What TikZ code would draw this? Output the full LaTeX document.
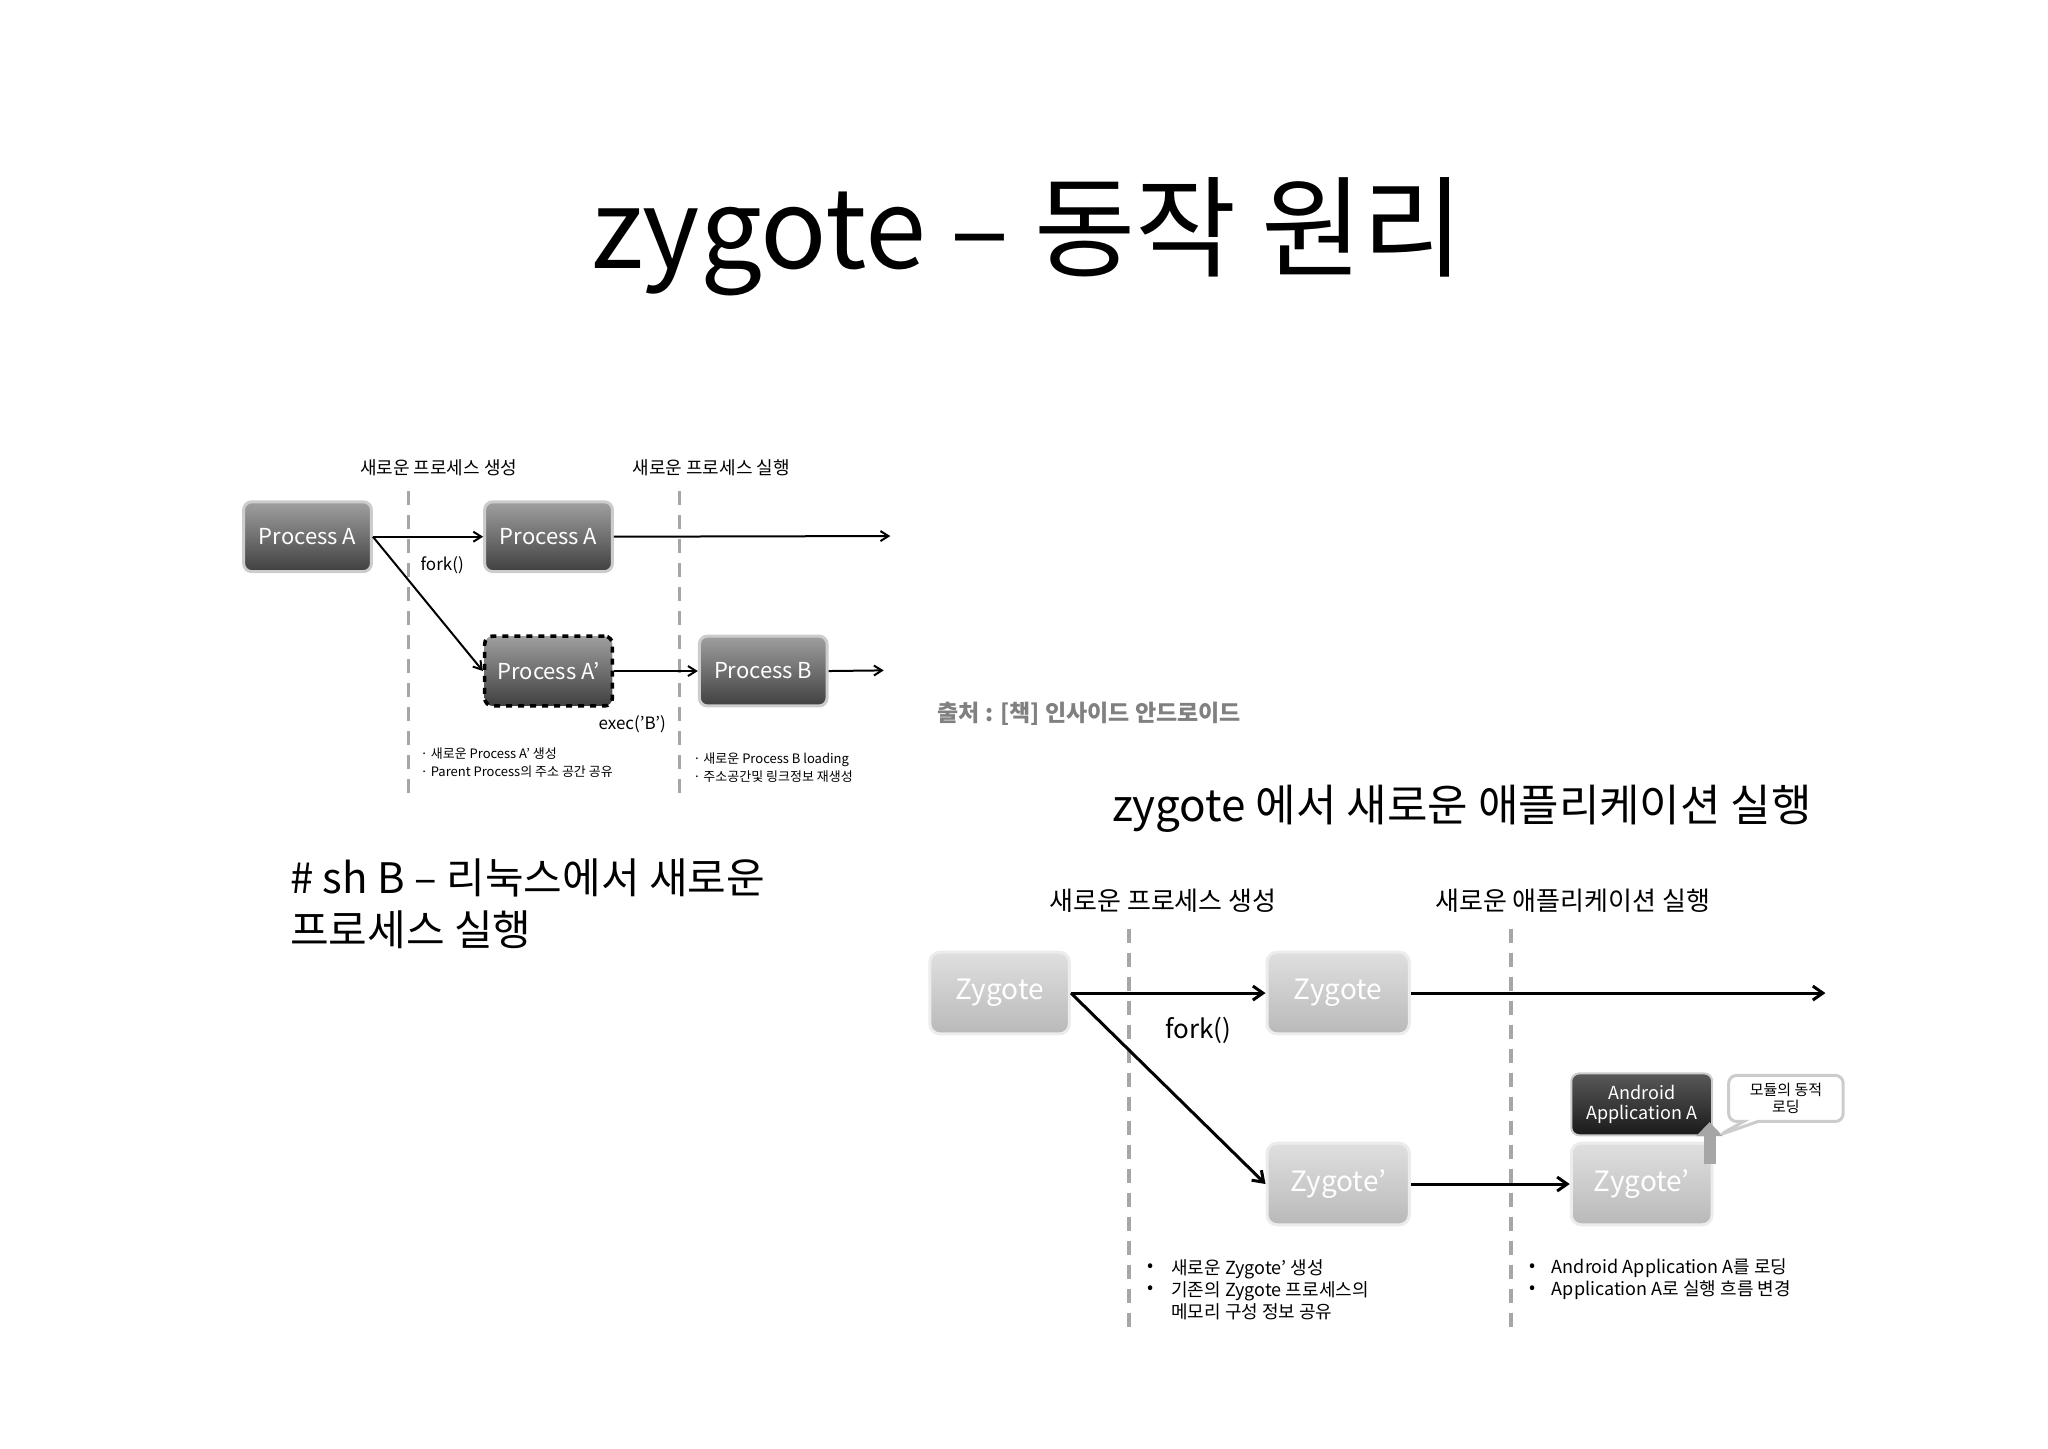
\documentclass[tikz,border=0pt]{standalone}
\usepackage{fontspec}
\setmainfont{Noto Sans CJK KR}
\usetikzlibrary{arrows.meta,shapes.callouts}
\begin{document}
\begin{tikzpicture}[x=0.6585pt,y=-0.6585pt,
  dk/.style={draw=gray!40,line width=1.5pt,rounded corners=4pt,top color=gray!75,bottom color=black!75,text=white,font=\fontsize{11}{12}\selectfont,inner sep=0pt},
  zy/.style={draw=gray!15,line width=1.5pt,rounded corners=5pt,top color=gray!25,bottom color=gray!55,text=white,font=\fontsize{14}{15}\selectfont,inner sep=0pt},
  ar/.style={-{Straight Barb[length=4pt,width=5pt]},line width=1pt},
  ar2/.style={-{Straight Barb[length=5pt,width=7pt]},line width=1.5pt},
  dl/.style={gray!70,line width=2pt,dash pattern=on 7pt off 5pt},
  sm/.style={font=\fontsize{6.5}{8}\selectfont,anchor=west},
  md/.style={font=\fontsize{9}{11}\selectfont,anchor=west,align=left}]
\useasboundingbox (0,0) rectangle (1555,1099.5);
\node (title) at (780,180) {\fontsize{55}{60}\selectfont zygote -- 동작 원리};
% top-left diagram
\node (l1) at (333,355) {\fontsize{9}{10}\selectfont 새로운 프로세스 생성};
\node (l2) at (540,355) {\fontsize{9}{10}\selectfont 새로운 프로세스 실행};
\coordinate (d1a) at (310,373); \coordinate (d1b) at (310,605);
\coordinate (d2a) at (516,373); \coordinate (d2b) at (516,605);
\draw[dl,line width=1.6pt] (d1a) -- (d1b);
\draw[dl,line width=1.6pt] (d2a) -- (d2b);
\node[dk,minimum width=97*0.6585pt,minimum height=53*0.6585pt] (pa) at (233.5,407.5) {Process A};
\node[dk,minimum width=97*0.6585pt,minimum height=53*0.6585pt] (pa2) at (416.5,407.5) {Process A};
\node[dk,draw=black,dashed,line width=1.8pt,minimum width=97*0.6585pt,minimum height=53*0.6585pt] (pap) at (416.5,509.5) {Process A'};
\node[dk,minimum width=97*0.6585pt,minimum height=53*0.6585pt] (pb) at (579.5,509.5) {Process B};
\coordinate (e1) at (676,407); \coordinate (e2) at (671,509);
\draw[ar] (pa.east) -- (pa2.west);
\draw[ar] (pa2.east) -- (e1);
\draw[ar] (pa.east) -- (pap.west);
\draw[ar] (pap.east) -- (pb.west);
\draw[ar] (pb.east) -- (e2);
\node[anchor=west] (fk) at (314,429) {\fontsize{8.5}{10}\selectfont fork()};
\node (ex) at (480,550) {\fontsize{8.5}{10}\selectfont exec('B')};
\node[sm] (n1) at (314,572) {· 새로운 Process A' 생성};
\node[sm] (n2) at (314,586) {· Parent Process의 주소 공간 공유};
\node[sm] (n3) at (521,577) {· 새로운 Process B loading};
\node[sm] (n4) at (521,590) {· 주소공간및 링크정보 재생성};
\node[text=gray,font=\bfseries\fontsize{11.5}{13}\selectfont] (src) at (827,542) {출처 : [책] 인사이드 안드로이드};
\node[anchor=west,align=left,font=\fontsize{21}{26}\selectfont] (sh) at (215,686) {\# sh B -- 리눅스에서 새로운\\프로세스 실행};
\node[font=\fontsize{22}{26}\selectfont] (sub) at (1110,614) {zygote 에서 새로운 애플리케이션 실행};
% bottom-right diagram
\node (m1) at (883,684) {\fontsize{13}{15}\selectfont 새로운 프로세스 생성};
\node (m2) at (1194,684) {\fontsize{13}{15}\selectfont 새로운 애플리케이션 실행};
\coordinate (d3a) at (857,705); \coordinate (d3b) at (857,1008);
\coordinate (d4a) at (1147,705); \coordinate (d4b) at (1147,1008);
\draw[dl] (d3a) -- (d3b);
\draw[dl] (d4a) -- (d4b);
\node[zy,minimum width=106*0.6585pt,minimum height=62*0.6585pt] (z1) at (759,754) {Zygote};
\node[zy,minimum width=108*0.6585pt,minimum height=62*0.6585pt] (z2) at (1016,754) {Zygote};
\node[zy,minimum width=108*0.6585pt,minimum height=62*0.6585pt] (z3) at (1016,899) {Zygote'};
\node[zy,minimum width=107*0.6585pt,minimum height=62*0.6585pt] (z4) at (1246.5,899) {Zygote'};
\node[draw=gray!40,line width=1pt,rounded corners=4pt,top color=black!65,bottom color=black!90,text=white,font=\fontsize{9}{10}\selectfont,align=center,inner sep=0pt,minimum width=107*0.6585pt,minimum height=47*0.6585pt] (app) at (1246.5,838.5) {Android\\Application A};
\coordinate (ua) at (1298,884); \coordinate (ub) at (1298,852);
\draw[-{Triangle[length=7pt,width=13pt]},line width=6pt,gray!70] (ua) -- (ub);
\node[rectangle callout,draw=gray!40,line width=1.5pt,rounded corners=4pt,fill=white,align=center,font=\fontsize{7.5}{8.5}\selectfont,minimum width=87*0.6585pt,minimum height=35*0.6585pt,inner sep=1pt,callout absolute pointer={(1305,862)}] (co) at (1356,834) {모듈의 동적\\로딩};
\coordinate (e3) at (1386,754);
\draw[ar2] (z1.east) -- (z2.west);
\draw[ar2] (z2.east) -- (e3);
\draw[ar2] (z1.east) -- (z3.west);
\draw[ar2] (z3.east) -- (z4.west);
\node (fk2) at (910,782) {\fontsize{13}{15}\selectfont fork()};
\node[md] (b1) at (866,979) {•\\•\\\phantom{•}};
\node[md] (t1) at (884,979) {새로운 Zygote' 생성\\기존의 Zygote 프로세스의\\메모리 구성 정보 공유};
\node[md] (b2) at (1156,971) {•\\•};
\node[md] (t2) at (1173,971) {Android Application A를 로딩\\Application A로 실행 흐름 변경};
\end{tikzpicture}
\end{document}
